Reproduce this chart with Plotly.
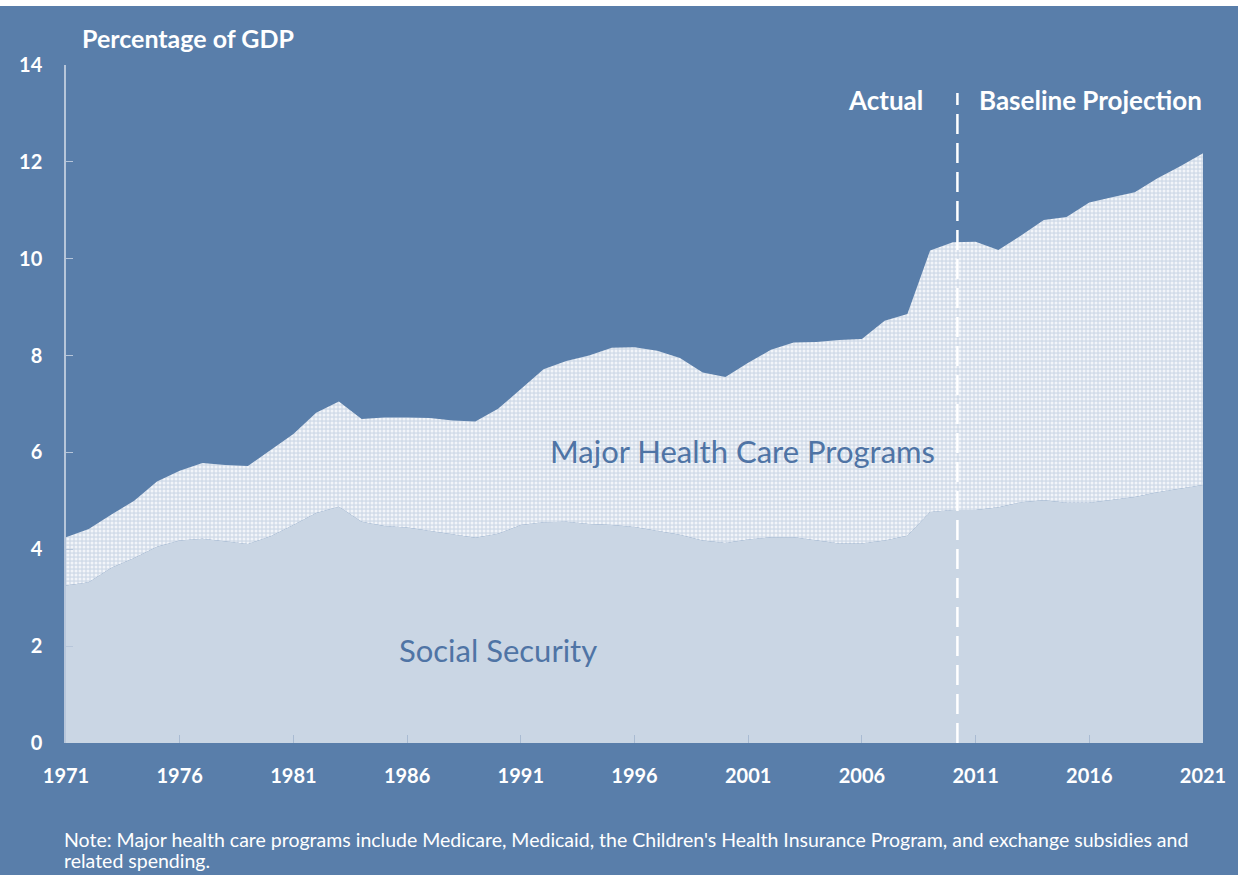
import plotly.graph_objects as go

years = list(range(1971, 2022))

social_security = [
    3.25, 3.32, 3.62, 3.82, 4.05, 4.18, 4.22, 4.16, 4.11, 4.27,
    4.50, 4.75, 4.88, 4.57, 4.48, 4.45, 4.38, 4.30, 4.24, 4.32,
    4.50, 4.56, 4.57, 4.52, 4.50, 4.46, 4.38, 4.30, 4.18, 4.13,
    4.20, 4.25, 4.25, 4.18, 4.12, 4.12, 4.18, 4.28, 4.77, 4.81,
    4.81, 4.87, 4.97, 5.01, 4.96, 4.96, 5.02, 5.08, 5.18, 5.26,
    5.33,
]

health_care = [
    1.00, 1.10, 1.10, 1.18, 1.35, 1.44, 1.56, 1.58, 1.61, 1.78,
    1.88, 2.07, 2.17, 2.12, 2.24, 2.27, 2.33, 2.36, 2.40, 2.58,
    2.80, 3.16, 3.32, 3.48, 3.66, 3.71, 3.72, 3.65, 3.47, 3.43,
    3.65, 3.87, 4.02, 4.10, 4.20, 4.22, 4.54, 4.58, 5.40, 5.53,
    5.54, 5.31, 5.51, 5.79, 5.90, 6.20, 6.25, 6.29, 6.48, 6.65,
    6.85,
]

x_ticks = [1971, 1976, 1981, 1986, 1991, 1996, 2001, 2006, 2011, 2016, 2021]
y_ticks = [0, 2, 4, 6, 8, 10, 12, 14]
divider_year = 2010.2

BG = "#597eaa"
SS_FILL = "#cad6e4"
LABEL_BLUE = "#4f74a5"
FONT = "Lato, 'Open Sans', sans-serif"

fig = go.Figure()

fig.add_trace(go.Scatter(
    x=years, y=social_security, mode="lines", stackgroup="one",
    line=dict(width=0, color=SS_FILL), fillcolor=SS_FILL,
    name="Social Security", hoverinfo="x+y",
))
fig.add_trace(go.Scatter(
    x=years, y=health_care, mode="lines", stackgroup="one",
    line=dict(width=0, color="#dbe3ee"), fillcolor="#d6e0ec",
    fillpattern=dict(shape=".", bgcolor="#d2dce9", fgcolor="#f2f5f9",
                     size=4, solidity=0.45, fillmode="replace"),
    name="Major Health Care Programs", hoverinfo="x+y",
))

# divider dashed line
fig.add_shape(type="line", xref="x", yref="y",
              x0=divider_year, x1=divider_year, y0=0, y1=13.42,
              line=dict(color="white", width=2.5, dash="20px,9px"))

# white strip at very top
fig.add_shape(type="rect", xref="paper", yref="paper",
              x0=-0.1, x1=1.1, y0=1 + 59 / 678, y1=1.2,
              fillcolor="white", line=dict(width=0), layer="above")

fig.update_layout(
    width=1238, height=875,
    margin=dict(l=66, r=31, t=65, b=132),
    paper_bgcolor=BG, plot_bgcolor=BG,
    showlegend=False,
    font=dict(family=FONT, color="white"),
    xaxis=dict(
        range=[1971, 2021], tickvals=x_ticks, ticktext=[str(t) for t in x_ticks],
        ticks="inside", ticklen=8, tickcolor="#a9bbd2", tickwidth=1,
        showgrid=False, zeroline=False, showline=False,
        tickfont=dict(size=20, color="white", family=FONT, weight="bold"),
        ticklabelstandoff=19,
    ),
    yaxis=dict(
        range=[0, 14], tickvals=y_ticks,
        ticks="inside", ticklen=7, tickcolor="#b7c6da", tickwidth=1,
        showgrid=False, zeroline=False, showline=True,
        linecolor="#b7c6da", linewidth=1.5,
        tickfont=dict(size=20, color="white", family=FONT, weight="bold"),
        ticklabelstandoff=18,
    ),
)

annos = [
    dict(text="<b>Percentage of GDP</b>", x=80, y=38, xanchor="left", size=25, color="white"),
    dict(text="<b>Actual</b>", x=928, y=100, xanchor="right", size=26, color="white"),
    dict(text="<b>Baseline Projection</b>", x=980, y=100, xanchor="left", size=26, color="white"),
    dict(text="Major Health Care Programs", x=745, y=451, xanchor="center", size=31, color=LABEL_BLUE),
    dict(text="Social Security", x=500, y=650, xanchor="center", size=31, color=LABEL_BLUE),
    dict(text="Note: Major health care programs include Medicare, Medicaid, the Children's Health Insurance Program, and exchange subsidies and",
         x=62, y=839, xanchor="left", size=19.5, color="white"),
    dict(text="related spending.", x=62, y=861, xanchor="left", size=19.5, color="white"),
]
for a in annos:
    fig.add_annotation(
        text=a["text"], xref="paper", yref="paper",
        x=(a["x"] - 66) / 1141, y=(743 - a["y"]) / 678,
        xanchor=a["xanchor"], yanchor="middle", showarrow=False,
        font=dict(size=a["size"], color=a["color"], family=FONT),
    )

fig.write_html("out.html", config={"displayModeBar": False},
               post_script="document.body.style.margin='0';")
